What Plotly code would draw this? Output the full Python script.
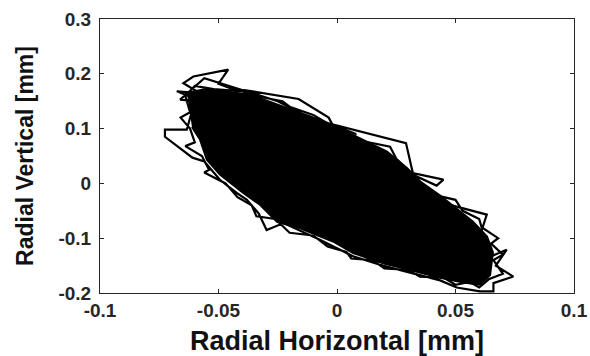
import plotly.graph_objects as go

# Dense central region of the shaft orbit (envelope of the overlapping revolutions), mm
core_h = [-0.0633, -0.0560, -0.0508, -0.0367, -0.0227, -0.0086, 0.0013, 0.0127, 0.0211, 0.0295,
          0.0350, 0.0435, 0.0506, 0.0574, 0.0633, 0.0658, 0.0646, 0.0603, 0.0532, 0.0435,
          0.0308, 0.0194, 0.0068, -0.0017, -0.0156, -0.0253, -0.0325, -0.0397, -0.0494, -0.0549,
          -0.0578, -0.0612]
core_v = [0.165, 0.172, 0.170, 0.162, 0.140, 0.118, 0.100, 0.076, 0.058, 0.028,
          0.004, -0.022, -0.046, -0.070, -0.097, -0.126, -0.167, -0.185, -0.181, -0.172,
          -0.158, -0.146, -0.127, -0.106, -0.082, -0.070, -0.039, -0.017, 0.016, 0.043,
          0.080, 0.103]

# Orbit trajectory strands around the dense region, mm
orbit_h = [-0.0400, -0.0676, -0.0580, -0.0648, -0.0606, -0.0459, -0.0500, -0.0440, -0.0385, -0.0162,
           -0.0035, -0.0020, 0.0291, 0.0320, 0.0449, 0.0420, 0.0300, 0.0150, -0.0050, -0.0250,
           -0.0560, -0.0662, -0.0600, -0.0634, -0.0726, -0.0726, -0.0610, -0.0560, -0.0494, -0.0423,
           -0.0380, -0.0330, -0.0297, -0.0226, -0.0072, 0.0068, 0.0194, 0.0320, 0.0435, 0.0505,
           0.0603, 0.0660, 0.0660, 0.0744, 0.0670, 0.0716, 0.0650, 0.0600, 0.0632, 0.0449,
           0.0380, 0.0330, 0.0250, 0.0224, 0.0055, 0.0080, -0.0050, -0.0100, -0.0200, -0.0230,
           -0.0350, -0.0400, -0.0520, -0.0600, -0.0640, -0.0620, -0.0660, -0.0620, -0.0600, -0.0640,
           -0.0570, -0.0540, -0.0560, -0.0470, -0.0420, -0.0360, -0.0340, -0.0260, -0.0200, -0.0100,
           -0.0040, 0.0040, 0.0060, 0.0150, 0.0200, 0.0300, 0.0350, 0.0450, 0.0500, 0.0560,
           0.0600, 0.0640, 0.0700, 0.0660, 0.0700, 0.0650, 0.0680, 0.0610, 0.0600, 0.0530,
           0.0500, 0.0400, 0.0300]
orbit_v = [0.120, 0.168, 0.165, 0.183, 0.195, 0.2075, 0.182, 0.172, 0.170, 0.154,
           0.120, 0.108, 0.0736, 0.019, 0.007, -0.004, 0.020, 0.060, 0.105, 0.150,
           0.192, 0.153, 0.150, 0.098, 0.098, 0.085, 0.047, 0.040, 0.0066, -0.0175,
           -0.030, -0.055, -0.085, -0.0724, -0.103, -0.133, -0.150, -0.164, -0.177, -0.190,
           -0.197, -0.197, -0.182, -0.170, -0.150, -0.121, -0.133, -0.100, -0.057, -0.036,
           -0.010, 0.012, 0.045, 0.067, 0.082, 0.090, 0.112, 0.125, 0.140, 0.150,
           0.160, 0.168, 0.172, 0.178, 0.160, 0.130, 0.120, 0.100, 0.075, 0.068,
           0.050, 0.025, 0.020, 0.000, -0.025, -0.040, -0.060, -0.065, -0.090, -0.095,
           -0.115, -0.125, -0.137, -0.140, -0.155, -0.158, -0.170, -0.172, -0.185, -0.180,
           -0.190, -0.175, -0.165, -0.140, -0.130, -0.110, -0.100, -0.080, -0.065, -0.050,
           -0.030, -0.020, 0.000]

x_ticks = [-0.1, -0.05, 0, 0.05, 0.1]
x_tick_text = ["-0.1", "-0.05", "0", "0.05", "0.1"]
y_ticks = [-0.2, -0.1, 0, 0.1, 0.2, 0.3]
y_tick_text = ["-0.2", "-0.1", "0", "0.1", "0.2", "0.3"]

fig = go.Figure()
fig.add_trace(go.Scatter(x=core_h, y=core_v, mode="lines", fill="toself",
                         fillcolor="black", line=dict(color="black", width=2),
                         showlegend=False, hoverinfo="skip"))
fig.add_trace(go.Scatter(x=orbit_h, y=orbit_v, mode="lines",
                         line=dict(color="black", width=2.2),
                         showlegend=False))

tick_font = dict(family="Liberation Sans", size=19, color="#262626", weight="bold")
axis_common = dict(showgrid=False, zeroline=False, showline=True, linecolor="#262626",
                   linewidth=1, mirror="ticks", ticks="inside", ticklen=4,
                   tickcolor="#262626", tickfont=tick_font, automargin=False)

fig.update_xaxes(range=[-0.1, 0.1], tickvals=x_ticks, ticktext=x_tick_text,
                 title=dict(text="<b>Radial Horizontal [mm]</b>", standoff=12,
                            font=dict(family="Liberation Sans", size=27, color="#111111")),
                 **axis_common)
fig.update_yaxes(range=[-0.2, 0.3], tickvals=y_ticks, ticktext=y_tick_text,
                 ticklabelstandoff=4,
                 title=dict(text="<b>Radial Vertical [mm]</b>", standoff=18,
                            font=dict(family="Liberation Sans", size=23, color="#111111")),
                 **axis_common)

fig.update_layout(width=590, height=356, margin=dict(l=100, r=16, t=19, b=63),
                  paper_bgcolor="white", plot_bgcolor="white")

fig.write_html("out.html")
